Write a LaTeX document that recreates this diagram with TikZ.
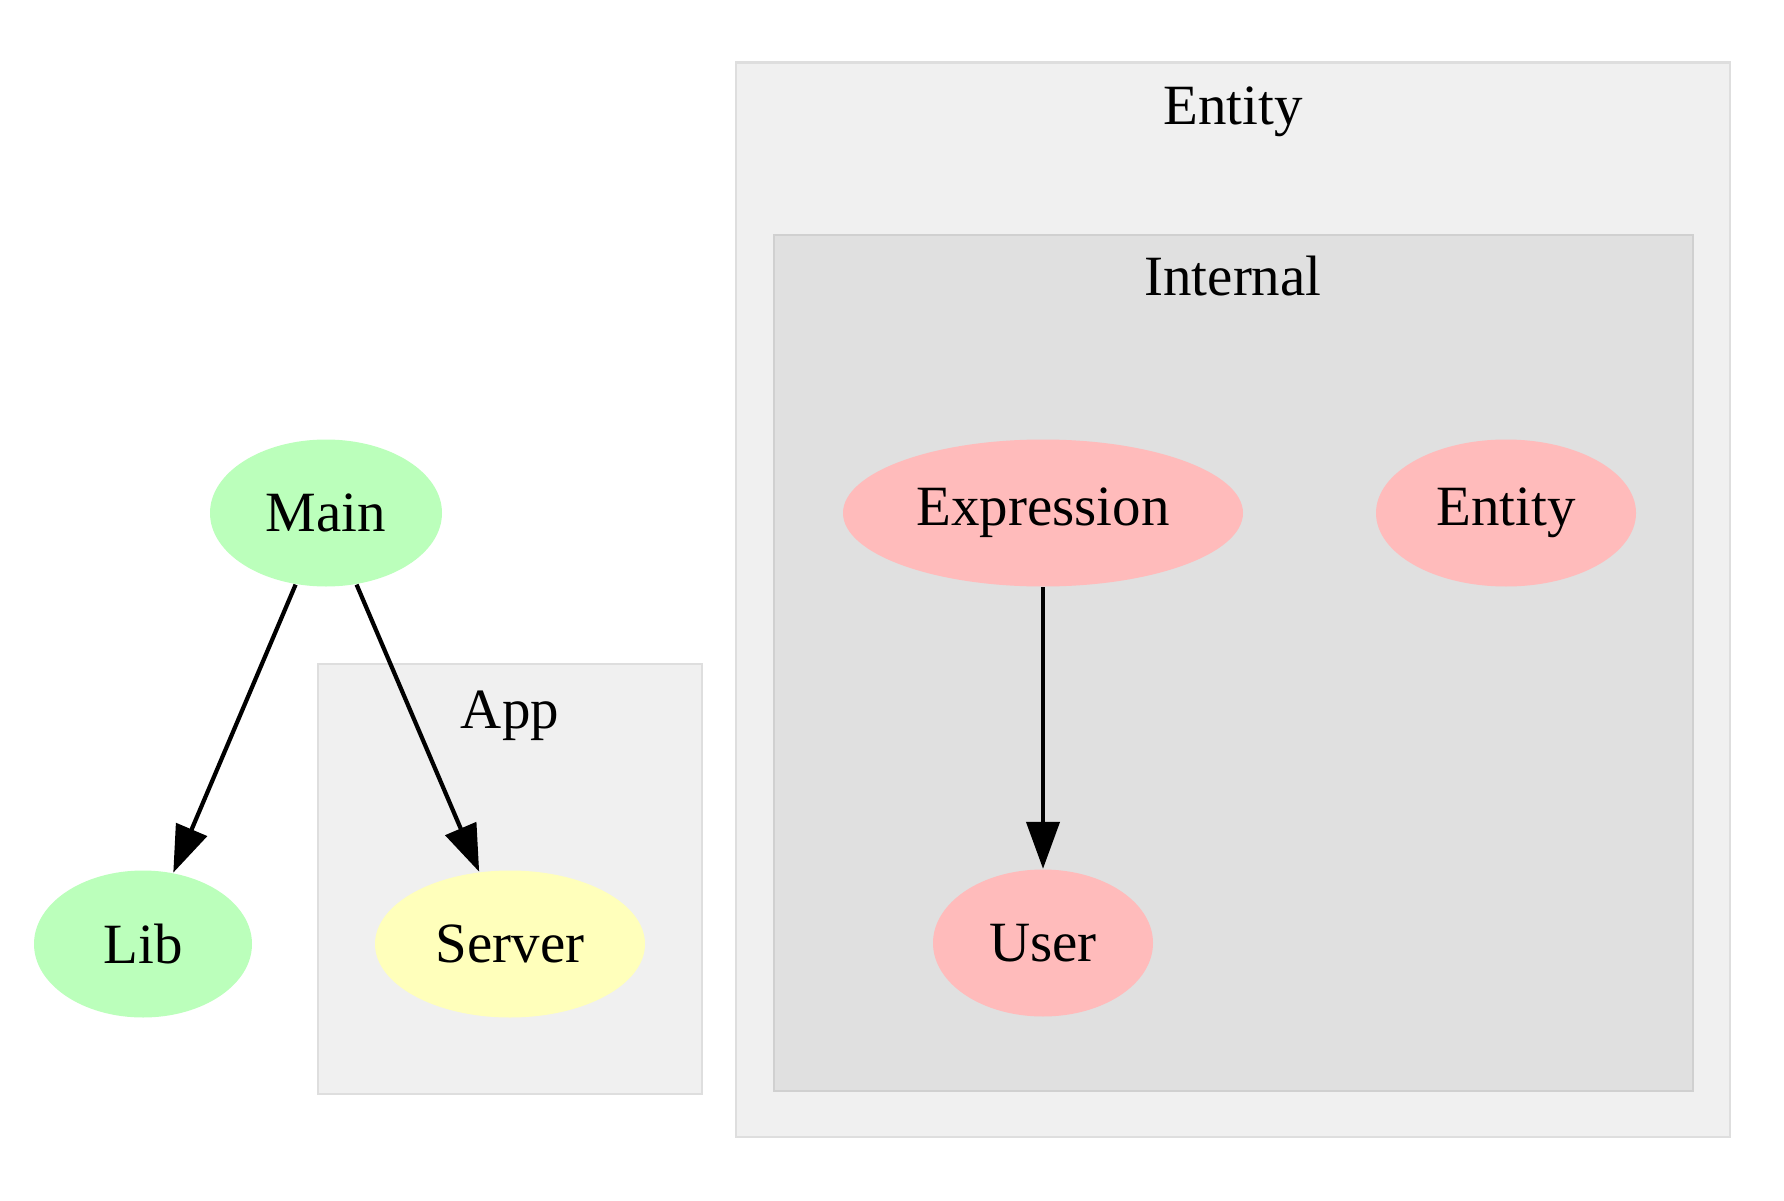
\documentclass[tikz,border=0pt]{standalone}
\usepackage{fontspec}
\setmainfont{Liberation Serif}
\usetikzlibrary{arrows.meta,shapes.geometric}
\definecolor{pkggreen}{RGB}{187,255,187}
\definecolor{pkgyellow}{RGB}{255,255,187}
\definecolor{pkgred}{RGB}{255,187,187}
\definecolor{pkgouter}{RGB}{240,240,240}
\definecolor{pkgouterline}{RGB}{222,222,222}
\definecolor{pkginner}{RGB}{224,224,224}
\definecolor{pkginnerline}{RGB}{208,208,208}

\begin{document}
\begin{tikzpicture}[
        modbox/.style={ellipse, inner sep=0pt, minimum height=1.47cm, font=\fontsize{16.2}{19}\selectfont},
        clusterbox/.style={line width=0.7pt},
        clusterlabel/.style={anchor=base, inner sep=0pt, font=\fontsize{16.2}{19}\selectfont},
        dep/.style={line width=1.2pt, -{Triangle[length=0.47cm, width=0.33cm]}}
    ]
    \useasboundingbox (0,0) rectangle (17.84,12);

    % Package clusters
    \draw[clusterbox, draw=pkgouterline, fill=pkgouter] (3.18,1.06) rectangle (7.02,5.36);
    \node[clusterlabel] (applabel) at (5.10,4.72) {App};

    \draw[clusterbox, draw=pkgouterline, fill=pkgouter] (7.36,0.63) rectangle (17.30,11.375);
    \node[clusterlabel] (entitylabel) at (12.33,10.75) {Entity};

    \draw[clusterbox, draw=pkginnerline, fill=pkginner] (7.74,1.09) rectangle (16.93,9.65);
    \node[clusterlabel] (internallabel) at (12.33,9.04) {Internal};

    % Modules
    \node[modbox, fill=pkggreen, minimum width=2.32cm] (main) at (3.26, 6.87) {Main};
    \node[modbox, fill=pkggreen, minimum width=2.18cm] (lib) at (1.43, 2.56) {Lib};
    \node[modbox, fill=pkgyellow, minimum width=2.70cm] (server) at (5.10, 2.56) {Server};

    \node[modbox, fill=pkgred, minimum width=4.00cm] (expression) at (10.43, 6.87) {Expression};
    \node[modbox, fill=pkgred, minimum width=2.60cm] (entity) at (15.06, 6.87) {Entity};
    \node[modbox, fill=pkgred, minimum width=2.20cm] (user) at (10.43, 2.57) {User};

    % Imports
    \draw[dep] (main) -- (lib);
    \draw[dep] (main) -- (server);
    \draw[dep] (expression) -- (user);
\end{tikzpicture}
\end{document}
